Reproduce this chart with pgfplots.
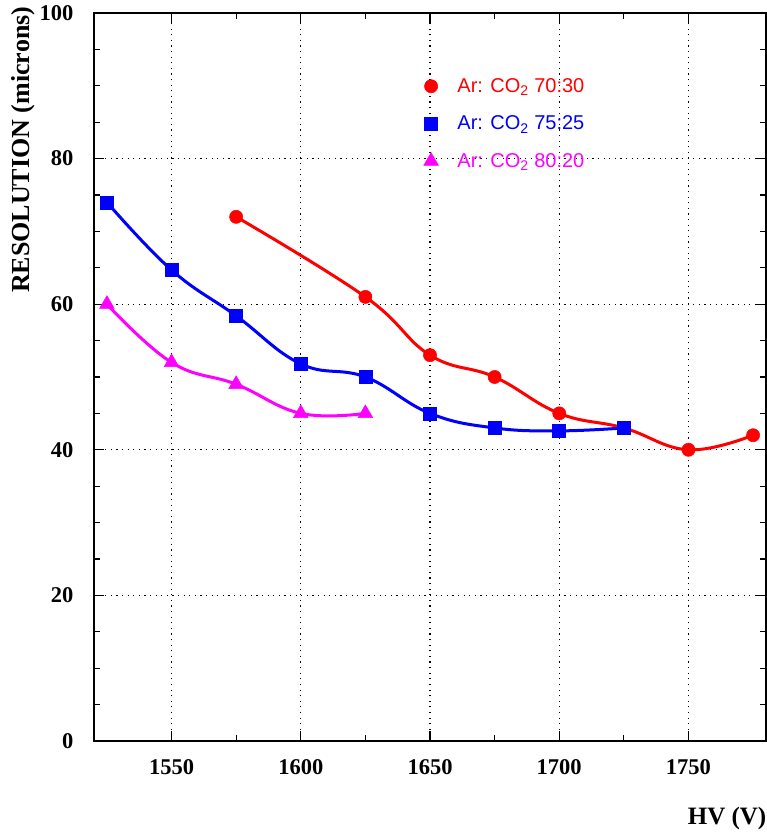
\documentclass[border=0pt]{standalone}
\usepackage{pgfplots}
\pgfplotsset{compat=1.18}
\usepackage{fontspec}
\setmainfont{Liberation Serif}
\newfontfamily\legfont{Liberation Sans}
\definecolor{cR}{RGB}{255,0,0}
\definecolor{cB}{RGB}{0,0,255}
\definecolor{cM}{RGB}{255,0,255}
\begin{document}
\begin{tikzpicture}
\begin{axis}[
 scale only axis, width=672pt, height=728pt,
 xmin=1520, xmax=1780, ymin=0, ymax=100,
 xtick={1550,1600,1650,1700,1750}, ytick={0,20,40,60,80,100},
 xticklabels={\textbf{1550},\textbf{1600},\textbf{1650},\textbf{1700},\textbf{1750}},
 yticklabels={\textbf{0},\textbf{20},\textbf{40},\textbf{60},\textbf{80},\textbf{100}},
 minor x tick num=1, minor y tick num=3,
 tick align=inside, major tick length=10pt, minor tick length=6pt,
 xmajorgrids, ymajorgrids,
 major grid style={black, line width=1.1pt, dash pattern=on 1.1pt off 4.5pt},
 axis line style={line width=1.5pt},
 every tick/.style={black, line width=1.2pt},
 xticklabel style={yshift=-15pt, font=\bfseries\fontsize{22.5}{24}\selectfont},
 yticklabel style={xshift=-17pt, font=\bfseries\fontsize{22.5}{24}\selectfont},
 xlabel={HV (V)}, ylabel={RESOLUTION (microns)},
 every axis x label/.style={at={(axis description cs:0.942,-0.106)},anchor=center,font=\bfseries\fontsize{25}{28}\selectfont},
 every axis y label/.style={at={(axis description cs:-0.1057,0.812)},rotate=90,anchor=center,font=\bfseries\fontsize{26}{28}\selectfont},
 clip=false,
 legend style={at={(axis cs:1647.5,91.3)}, anchor=north west, draw=none, fill=none,
   font=\legfont\fontsize{20}{22}\selectfont, row sep=18pt, column sep=17pt, inner sep=0pt},
 legend cell align=left,
 legend image code/.code={\draw[#1, only marks] plot coordinates {(0.2cm,0cm)};},
]
\addplot[cR, line width=3pt, smooth, tension=0.7, mark=*, mark size=6.6pt, mark options={solid, fill=cR, line width=0.5pt}]
 coordinates {(1575,72) (1625,61) (1650,53) (1675,50) (1700,45) (1725,43) (1750,40) (1775,42)};
\addlegendentry{\textcolor{cR}{Ar: CO\textsubscript{2} 70:30}}
\addplot[cB, line width=3pt, smooth, tension=0.7, mark=square*, mark size=6.5pt, mark options={solid, fill=cB, line width=0.5pt}]
 coordinates {(1525,74) (1550,64.7) (1575,58.4) (1600,51.8) (1625,50) (1650,45) (1675,43) (1700,42.6) (1725,43)};
\addlegendentry{\textcolor{cB}{Ar: CO\textsubscript{2} 75:25}}
\addplot[cM, line width=3pt, smooth, tension=0.7, mark=triangle*, mark size=8.5pt, mark options={solid, fill=cM, line width=0.5pt}]
 coordinates {(1525,60) (1550,52) (1575,49) (1600,45) (1625,45)};
\addlegendentry{\textcolor{cM}{Ar: CO\textsubscript{2} 80:20}}
\end{axis}
\pgfresetboundingbox
\path (-94pt,-93pt) rectangle (673pt,741pt);
\end{tikzpicture}
\end{document}
